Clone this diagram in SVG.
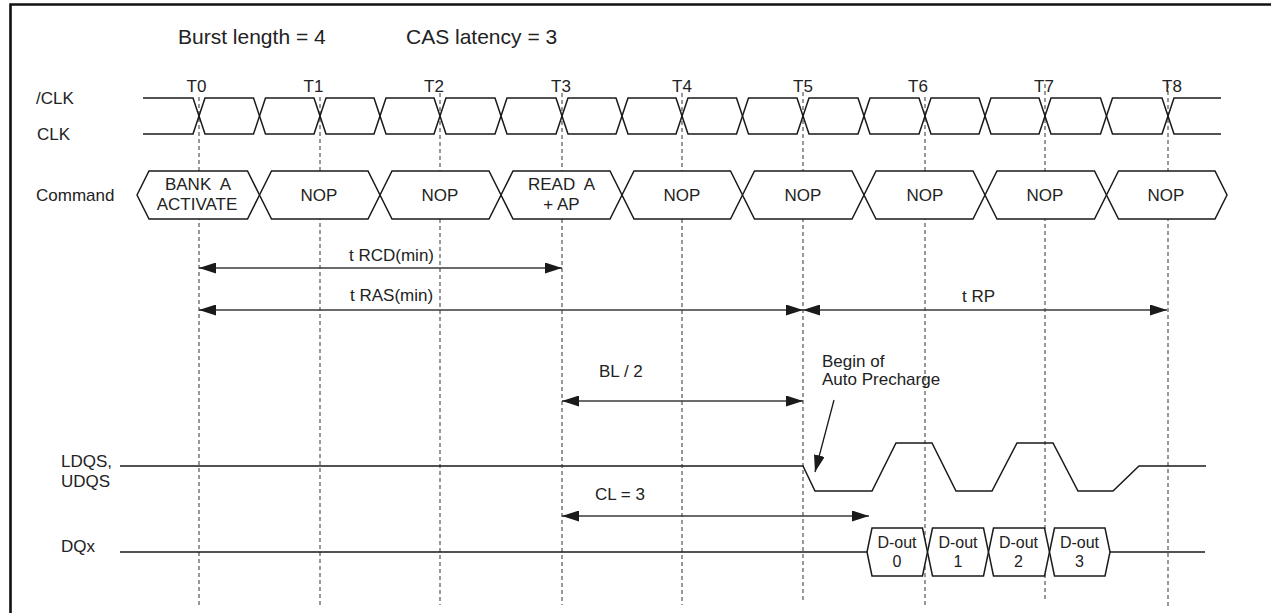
<svg xmlns="http://www.w3.org/2000/svg" width="1271" height="613" viewBox="0 0 1271 613">
<style>
text{font-family:"Liberation Sans",Arial,sans-serif;fill:#222;font-size:17px}
.big{font-size:21px}
.mid{text-anchor:middle}
.sm{font-size:16px}
.grid{stroke:#333;stroke-width:1;stroke-dasharray:4 3;fill:none}
.wave{stroke:#1a1a1a;stroke-width:1.5;fill:none}
.bus{stroke:#1a1a1a;stroke-width:1.5;fill:#fff}
.arr{stroke:#3a3a3a;stroke-width:1.5;fill:none;marker-start:url(#ah);marker-end:url(#ah)}
.frame{stroke:#111;stroke-width:2.6;fill:none}
</style>
<defs>
<marker id="ah" viewBox="0 0 17 11" refX="17" refY="5.5" markerWidth="17" markerHeight="11" markerUnits="userSpaceOnUse" orient="auto-start-reverse">
<path d="M0,0 L17,5.5 L0,11 z" fill="#1a1a1a"/>
</marker>
</defs>
<rect width="1271" height="613" fill="#fff"/>
<g id="frame">
<path class="frame" d="M10.5,613 V4.5 H1271"/>
</g>
<g id="header">
<text class="big" x="178" y="43.5">Burst length = 4</text>
<text class="big" x="406" y="43.5">CAS latency = 3</text>
</g>
<g id="grid">
<line class="grid" x1="199" y1="97" x2="199" y2="605"/>
<line class="grid" x1="320" y1="97" x2="320" y2="605"/>
<line class="grid" x1="440" y1="93" x2="440" y2="605"/>
<line class="grid" x1="562" y1="93" x2="562" y2="605"/>
<line class="grid" x1="682" y1="93" x2="682" y2="605"/>
<line class="grid" x1="803" y1="92" x2="803" y2="600"/>
<line class="grid" x1="925" y1="97" x2="925" y2="606"/>
<line class="grid" x1="1045" y1="84" x2="1045" y2="600"/>
<line class="grid" x1="1168" y1="84" x2="1168" y2="606"/>
</g>
<g id="time-labels">
<text class="mid" x="196.5" y="92">T0</text>
<text class="mid" x="313.5" y="92">T1</text>
<text class="mid" x="434" y="92">T2</text>
<text class="mid" x="561" y="92">T3</text>
<text class="mid" x="682" y="92">T4</text>
<text class="mid" x="803" y="92">T5</text>
<text class="mid" x="918" y="92">T6</text>
<text class="mid" x="1044" y="92">T7</text>
<text class="mid" x="1172" y="92">T8</text>
</g>
<g id="clk">
<text x="36" y="103.5">/CLK</text>
<text x="37" y="139.5">CLK</text>
<path class="wave" d="M143,98 H193 L205,134 H253.5 L265.5,98 H314 L326,134 H374 L386,98 H434 L446,134 H495 L507,98 H556 L568,134 H616 L628,98 H676 L688,134 H736.5 L748.5,98 H797 L809,134 H858 L870,98 H919 L931,134 H979 L991,98 H1039 L1051,134 H1100.5 L1112.5,98 H1162 L1174,134 H1221"/>
<path class="wave" d="M143,134 H193 L205,98 H253.5 L265.5,134 H314 L326,98 H374 L386,134 H434 L446,98 H495 L507,134 H556 L568,98 H616 L628,134 H676 L688,98 H736.5 L748.5,134 H797 L809,98 H858 L870,134 H919 L931,98 H979 L991,134 H1039 L1051,98 H1100.5 L1112.5,134 H1162 L1174,98 H1221"/>
</g>
<g id="command">
<text x="36" y="201">Command</text>
<g id="cmd-t0">
<polygon class="bus" points="137,195 149,171 247.5,171 259.5,195 247.5,219 149,219"/>
<text class="mid" x="198" y="190" xml:space="preserve">BANK  A</text>
<text class="mid" x="197" y="210">ACTIVATE</text>
</g>
<g id="cmd-t1">
<polygon class="bus" points="259.5,195 271.5,171 368,171 380,195 368,219 271.5,219"/>
<text class="mid" x="319" y="201">NOP</text>
</g>
<g id="cmd-t2">
<polygon class="bus" points="380,195 392,171 489,171 501,195 489,219 392,219"/>
<text class="mid" x="440" y="201">NOP</text>
</g>
<g id="cmd-t3">
<polygon class="bus" points="501,195 513,171 610,171 622,195 610,219 513,219"/>
<text class="mid" x="561.5" y="190" xml:space="preserve">READ  A</text>
<text class="mid" x="561.5" y="210">+ AP</text>
</g>
<g id="cmd-t4">
<polygon class="bus" points="622,195 634,171 730.5,171 742.5,195 730.5,219 634,219"/>
<text class="mid" x="682" y="201">NOP</text>
</g>
<g id="cmd-t5">
<polygon class="bus" points="742.5,195 754.5,171 852,171 864,195 852,219 754.5,219"/>
<text class="mid" x="803" y="201">NOP</text>
</g>
<g id="cmd-t6">
<polygon class="bus" points="864,195 876,171 973,171 985,195 973,219 876,219"/>
<text class="mid" x="925" y="201">NOP</text>
</g>
<g id="cmd-t7">
<polygon class="bus" points="985,195 997,171 1094.5,171 1106.5,195 1094.5,219 997,219"/>
<text class="mid" x="1045" y="201">NOP</text>
</g>
<g id="cmd-t8">
<polygon class="bus" points="1106.5,195 1118.5,171 1215,171 1227,195 1215,219 1118.5,219"/>
<text class="mid" x="1166" y="201">NOP</text>
</g>
</g>
<g id="dqs">
<text x="61" y="467">LDQS,</text>
<text x="61" y="487">UDQS</text>
<path class="wave" d="M120,466 H803 L815,491 H872 L896,443 H932 L956,491 H992 L1017,443 H1053 L1078,491 H1113 L1139,466 H1206"/>
</g>
<g id="dq">
<text x="61" y="552">DQx</text>
<path class="wave" d="M120,552 H867 M1110,552 H1205"/>
<g id="dout0">
<polygon class="bus" points="867,552 872,528 922.5,528 927.5,552 922.5,576 872,576"/>
<text class="mid sm" x="897" y="548">D-out</text>
<text class="mid sm" x="897" y="567">0</text>
</g>
<g id="dout1">
<polygon class="bus" points="927.5,552 932.5,528 983.5,528 988.5,552 983.5,576 932.5,576"/>
<text class="mid sm" x="958" y="548">D-out</text>
<text class="mid sm" x="958" y="567">1</text>
</g>
<g id="dout2">
<polygon class="bus" points="988.5,552 993.5,528 1044.5,528 1049.5,552 1044.5,576 993.5,576"/>
<text class="mid sm" x="1018.5" y="548">D-out</text>
<text class="mid sm" x="1018.5" y="567">2</text>
</g>
<g id="dout3">
<polygon class="bus" points="1049.5,552 1054.5,528 1105,528 1110,552 1105,576 1054.5,576"/>
<text class="mid sm" x="1079.5" y="548">D-out</text>
<text class="mid sm" x="1079.5" y="567">3</text>
</g>
</g>
<g id="connectors">
<line class="arr" x1="199" y1="268" x2="562" y2="268"/>
<line class="arr" x1="199" y1="310" x2="803" y2="310"/>
<line class="arr" x1="803" y1="310" x2="1167" y2="310"/>
<line class="arr" x1="562" y1="401" x2="803" y2="401"/>
<line class="arr" x1="562" y1="516" x2="869" y2="516"/>
<line x1="834" y1="400" x2="815" y2="472" stroke="#1a1a1a" stroke-width="1.3" marker-end="url(#ah)"/>
</g>
<g id="labels">
<text x="349" y="261">t RCD(min)</text>
<text x="350" y="300.5">t RAS(min)</text>
<text x="962" y="302">t RP</text>
<text x="599" y="377">BL / 2</text>
<text x="822" y="367">Begin of</text>
<text x="822" y="385">Auto Precharge</text>
<text x="595" y="500">CL = 3</text>
</g>
</svg>
